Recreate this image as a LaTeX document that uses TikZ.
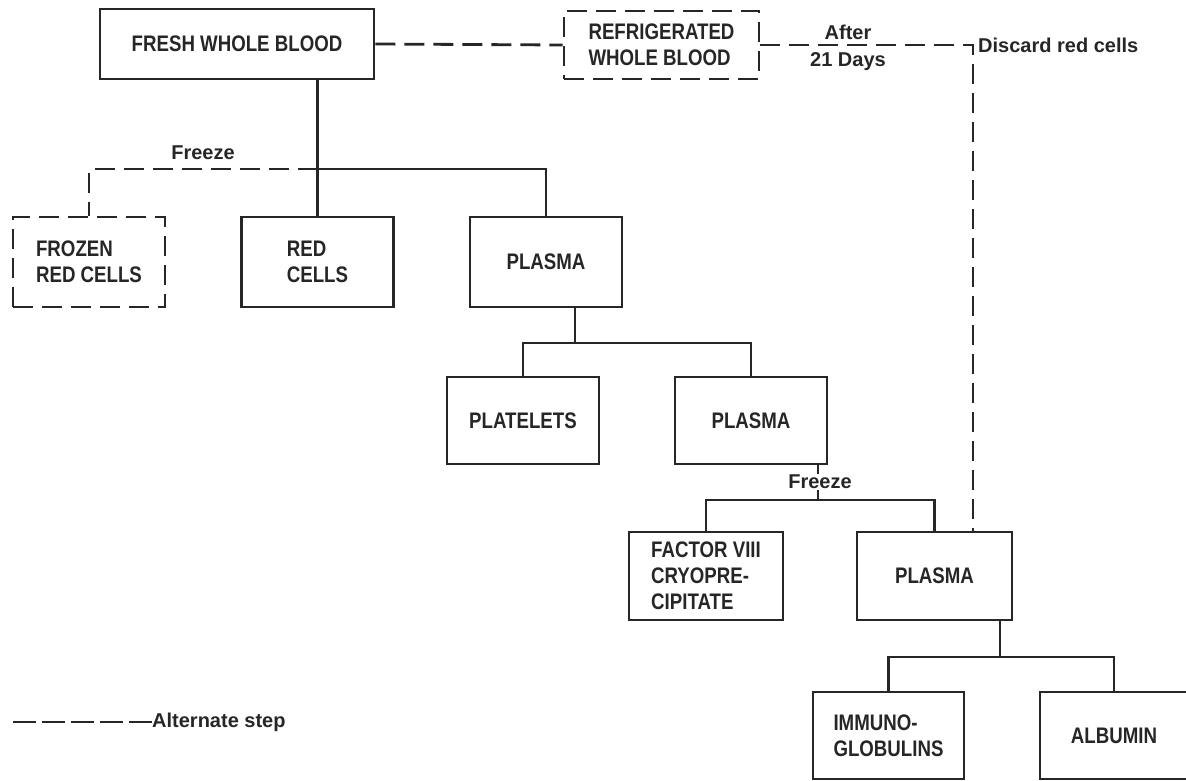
\documentclass[tikz,border=0pt]{standalone}
\usepackage{fontspec}
\setmainfont{Liberation Sans}
\newfontfamily\condfont{Liberation Sans}[FakeStretch=0.83]
\newcommand\boxfont{\condfont\bfseries\fontsize{22.5}{26}\selectfont}
\newcommand\lblfont{\bfseries\fontsize{20}{24}\selectfont}
\definecolor{ink}{HTML}{262626}
\begin{document}
\begin{tikzpicture}[x=1pt,y=-1pt,
  box/.style={draw=ink, text=ink, line width=2.8pt, minimum width=152pt, minimum height=90pt, inner sep=0pt, font=\boxfont, align=center},
  altbox/.style={box, dash pattern=on 20pt off 9pt},
  solidline/.style={draw=ink, line width=2.8pt},
  altline/.style={draw=ink, line width=2.8pt, dash pattern=on 20pt off 9pt},
  lbl/.style={font=\lblfont, text=ink, inner sep=1pt}]
\useasboundingbox (0,0) rectangle (1186,781);

% boxes
\node[box, minimum width=274pt, minimum height=70pt] (fwb) at (237,44) {FRESH WHOLE BLOOD};
\node[altbox, minimum width=195pt, minimum height=68pt, align=left] (ref) at (661.5,45) {REFRIGERATED\\WHOLE BLOOD};
\node[altbox, align=left] (frozen) at (89,262) {FROZEN\\RED CELLS};
\node[box, align=left] (red) at (317.5,262) {RED\\CELLS};
\node[box] (pl1) at (546,262) {PLASMA};
\node[box, minimum height=87pt] (plt) at (523,420.5) {PLATELETS};
\node[box, minimum height=87pt] (pl2) at (751,420.5) {PLASMA};
\node[box, minimum width=154pt, minimum height=88pt, align=left] (f8) at (706,576) {FACTOR VIII\\CRYOPRE-\\CIPITATE};
\node[box, minimum width=155pt, minimum height=88pt] (pl3) at (934.5,576) {PLASMA};
\node[box, minimum width=151pt, minimum height=87pt, align=left] (imm) at (888.5,735.5) {IMMUNO-\\GLOBULINS};
\node[box, minimum width=148pt, minimum height=87pt] (alb) at (1114,735.5) {ALBUMIN};

% levels
\coordinate (h1) at (0,169);
\coordinate (h2) at (0,343);
\coordinate (h3) at (0,500);
\coordinate (h4) at (0,657);
\coordinate (v2) at (575,0);
\coordinate (v3) at (818,0);
\coordinate (v4) at (1000,0);
\coordinate (dc) at (973,45);

% solid connectors
\draw[solidline] (fwb.south -| red.north) -- (red.north);
\draw[solidline] (red.north |- h1) -| (pl1.north);
\draw[solidline] (pl1.south -| v2) -- (v2 |- h2);
\draw[solidline] (plt.north) |- (pl2.north |- h2) -- (pl2.north);
\draw[solidline] (pl2.south -| v3) -- (v3 |- h3);
\draw[solidline] (f8.north) |- (pl3.north |- h3) -- (pl3.north);
\draw[solidline] (pl3.south -| v4) -- (v4 |- h4);
\draw[solidline] (imm.north) |- (alb.north |- h4) -- (alb.north);

% alternate (dashed) connectors
\draw[altline] (red.north |- h1) -| (frozen.north);
\draw[altline] (fwb.east) -- (ref.west);
\draw[altline] (ref.east) -- (dc) -- (dc |- pl3.north);

% labels
\node[lbl] (frz1) at (203,153) {Freeze};
\node[lbl, fill=white] (frz2) at (820,482) {Freeze};
\node[lbl] (after) at (848,32) {After};
\node[lbl] (days) at (848,62) {21 Days};
\node[lbl, anchor=west] (discard) at (977,45) {Discard red cells};

% legend
\coordinate (lg0) at (13,722);
\node[lbl, anchor=west, inner sep=0pt] (legend) at (152,722) {Alternate step};
\draw[draw=ink, line width=2.8pt, dash pattern=on 23pt off 6pt] (lg0) -- (legend.west);
\end{tikzpicture}
\end{document}
